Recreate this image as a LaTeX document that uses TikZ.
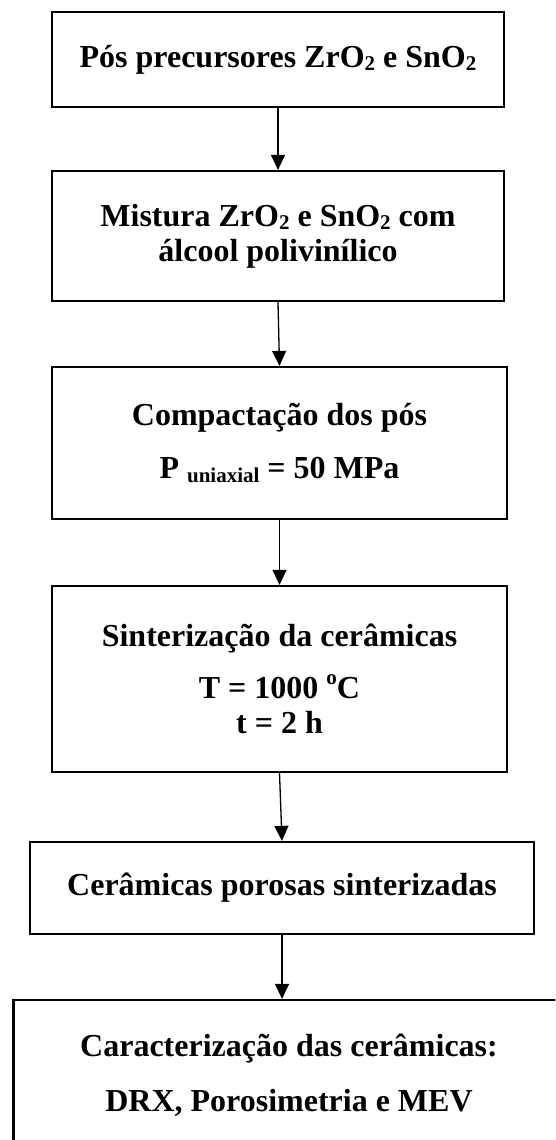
\documentclass[tikz,border=0pt]{standalone}
\usepackage{fontspec}
\setmainfont{Liberation Serif}
\usetikzlibrary{arrows.meta}
\newcommand{\indice}[1]{\raisebox{-0.22ex}{\fontsize{21}{21}\selectfont #1}}
\newcommand{\expoente}[1]{\raisebox{0.95ex}{\fontsize{21}{21}\selectfont #1}}

\begin{document}
\begin{tikzpicture}[x=1pt, y=-1pt,
    etapa/.style={draw, line width=2.2pt, align=center, inner sep=0pt,
      font=\fontsize{32}{35}\selectfont\bfseries},
    seta/.style={line width=1.3pt, -{Triangle[width=14pt,length=15pt]}}]
  \clip (0,0) rectangle (555,1140);
  % etapas do processo
  \node [etapa, minimum width=452pt, minimum height=95pt] (pos) at (278,59.5)
    {Pós precursores ZrO\indice{2} e SnO\indice{2}};
  \node [etapa, minimum width=452pt, minimum height=130pt] (mist) at (278,236)
    {Mistura ZrO\indice{2} e SnO\indice{2} com\\álcool polivinílico};
  \node [etapa, minimum width=455pt, minimum height=152pt] (comp) at (279.5,443)
    {Compactação dos pós\\[18pt]P \indice{uniaxial} = 50 MPa};
  \node [etapa, minimum width=455pt, minimum height=186pt] (sint) at (279.5,679)
    {Sinterização da cerâmicas\\[17pt]T = 1000 \expoente{o}C\\t = 2 h};
  \node [etapa, minimum width=504pt, minimum height=92pt] (cer) at (282,888)
    {Cerâmicas porosas sinterizadas};
  \node [etapa, minimum width=551pt, minimum height=150pt] (carac) at (289,1075)
    {Caracterização das cerâmicas:\\[20pt]DRX, Porosimetria e MEV};
  % setas
  \draw [seta] (pos.south) -- (mist.north);
  \draw [seta] (mist.south) -- (comp.north);
  \draw [seta] (comp.south) -- (sint.north);
  \draw [seta] (sint.south) -- (cer.north);
  \draw [seta] (cer.south) -- (cer.south |- carac.north);
\end{tikzpicture}
\end{document}
